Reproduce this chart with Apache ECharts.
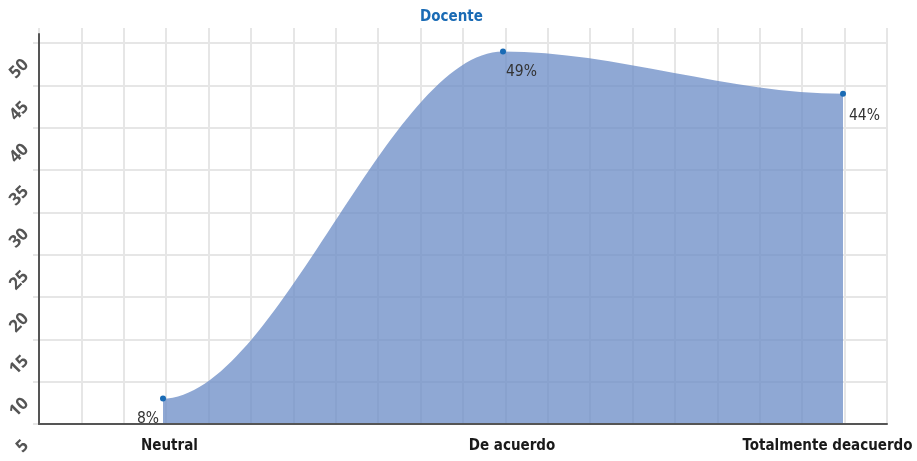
<!DOCTYPE html>
<html>
<head>
<meta charset="utf-8">
<script src="https://cdn.jsdelivr.net/npm/echarts@6/dist/echarts.min.js"></script>
<style>
  html, body { margin: 0; padding: 0; background: #ffffff; }
  #chart { width: 917px; height: 461px; }
</style>
</head>
<body>
<div id="chart"></div>
<script>
// Survey answers for the "Docente" group
const chartTitle = 'Docente';
const categories = ['Neutral', 'De acuerdo', 'Totalmente deacuerdo'];
const percentages = [8, 49, 44];
const yTickValues = [5, 10, 15, 20, 25, 30, 35, 40, 45, 50];

const yMin = yTickValues[0];
const yMax = yTickValues[yTickValues.length - 1];
const yStep = yTickValues[1] - yTickValues[0];

const NARROW = "'DejaVu Sans Condensed', 'DejaVu Sans', sans-serif";
const GRID_LINE = '#e6e6e6';
const AXIS_LINE = '#555555';
const AREA_FILL = 'rgba(106,139,198,0.75)';
const POINT_COLOR = '#1a6bb5';
const COLUMNS = 20;          // vertical background grid columns
const LABEL_SHIFT = 19;      // rotated y labels sit a little below their ticks

// plot frame (px)
const L = 39, R = 30, B = 37, TOP_VALUE = 43;

// where each value label sits next to its point
const pointLabels = [
  { position: [-1, 23], align: 'right' },
  { position: [6, 23.5], align: 'left' },
  { position: [9, 25], align: 'left' }
];
// horizontal nudges of the category labels
const categoryPads = [[0, 0, 0, 13], [0, 0, 0, 18], [0, 31, 0, 0]];

const rich = {};
categoryPads.forEach((p, i) => {
  rich['c' + i] = {
    padding: p, fontFamily: NARROW, fontSize: 15, fontWeight: 'bold', color: '#1a1a1a'
  };
});

// Area under a curve that eases in and out between neighbouring points
// (horizontal tangents at every point).
function renderArea(params, api) {
  if (params.dataIndexInside !== 0) return null;
  const n = params.dataInsideLength;
  const pts = [];
  for (let j = 0; j < n; j++) {
    pts.push(api.coord([api.value(0, j), api.value(1, j)]));
  }
  const base = api.coord([0, yMin])[1];
  let d = 'M' + pts[0][0] + ',' + base + ' L' + pts[0][0] + ',' + pts[0][1];
  for (let j = 1; j < n; j++) {
    const a = pts[j - 1], b = pts[j];
    const k = (b[0] - a[0]) / 3;
    d += ' C' + (a[0] + k) + ',' + a[1] + ' ' + (b[0] - k) + ',' + b[1] + ' ' + b[0] + ',' + b[1];
  }
  d += ' L' + pts[n - 1][0] + ',' + base + ' Z';
  return {
    type: 'path',
    shape: { pathData: d },
    style: { fill: AREA_FILL, stroke: null }
  };
}

const chart = echarts.init(document.getElementById('chart'), null, { renderer: 'canvas' });

chart.setOption({
  animation: false,
  backgroundColor: '#ffffff',
  title: {
    text: chartTitle,
    left: 415,
    top: 5,
    textStyle: { fontFamily: NARROW, fontSize: 15, fontWeight: 'bold', color: '#1a6bb5' }
  },
  grid: [
    { left: L, right: R, top: 28, bottom: B, outerBoundsMode: 'none' },                       // columns
    { left: L, right: R, top: TOP_VALUE, bottom: B, outerBoundsMode: 'none' },                // rows
    { left: L, right: R, top: 34, bottom: B, outerBoundsMode: 'none' },                       // axis lines
    { left: L, right: R, top: TOP_VALUE + LABEL_SHIFT, bottom: B - LABEL_SHIFT, outerBoundsMode: 'none' }, // y labels
    { left: 163, right: 74, top: TOP_VALUE, bottom: B, outerBoundsMode: 'none' }              // data
  ],
  xAxis: [
    {
      gridIndex: 0, type: 'value', min: 0, max: COLUMNS, interval: 1,
      axisLine: { show: false }, axisTick: { show: false }, axisLabel: { show: false },
      splitLine: { show: true, lineStyle: { color: GRID_LINE, width: 2 } }
    },
    { gridIndex: 1, type: 'value', show: false },
    {
      gridIndex: 2, type: 'value', min: 0, max: 1, z: 5,
      axisLine: { show: true, onZero: false, lineStyle: { color: AXIS_LINE, width: 2 } },
      axisTick: { show: false }, axisLabel: { show: false }, splitLine: { show: false }
    },
    { gridIndex: 3, type: 'value', show: false },
    {
      gridIndex: 4, type: 'category', data: categories, boundaryGap: false,
      axisLine: { show: false }, axisTick: { show: false }, splitLine: { show: false },
      axisLabel: {
        show: true, margin: 15, interval: 0,
        formatter: (v, i) => '{c' + i + '|' + v + '}',
        rich: rich
      }
    }
  ],
  yAxis: [
    { gridIndex: 0, type: 'value', show: false },
    {
      gridIndex: 1, type: 'value', min: yMin, max: yMax, interval: yStep,
      axisLine: { show: false },
      axisTick: { show: true, length: 6, lineStyle: { color: GRID_LINE, width: 2 } },
      axisLabel: { show: false },
      splitLine: { show: true, lineStyle: { color: GRID_LINE, width: 2 } }
    },
    {
      gridIndex: 2, type: 'value', min: 0, max: 1, z: 5,
      axisLine: { show: true, onZero: false, lineStyle: { color: AXIS_LINE, width: 2 } },
      axisTick: { show: false }, axisLabel: { show: false }, splitLine: { show: false }
    },
    {
      gridIndex: 3, type: 'value', min: yMin, max: yMax, interval: yStep,
      axisLine: { show: false }, axisTick: { show: false }, splitLine: { show: false },
      axisLabel: {
        show: true, rotate: 45, margin: 13,
        color: '#555555', fontFamily: "'Open Sans', sans-serif", fontWeight: 'bold', fontSize: 17
      }
    },
    { gridIndex: 4, type: 'value', min: yMin, max: yMax, show: false }
  ],
  series: [
    {
      type: 'custom',
      xAxisIndex: 4,
      yAxisIndex: 4,
      renderItem: renderArea,
      clip: false,
      z: 2,
      silent: true,
      data: percentages.map((v, i) => [i, v])
    },
    {
      type: 'scatter',
      xAxisIndex: 4,
      yAxisIndex: 4,
      symbol: 'circle',
      symbolSize: 6,
      z: 3,
      itemStyle: { color: POINT_COLOR, opacity: 1 },
      label: {
        show: true,
        formatter: (p) => p.value[1] + '%',
        verticalAlign: 'middle',
        fontFamily: NARROW,
        fontSize: 15.5,
        color: '#333333'
      },
      data: percentages.map((v, i) => ({ value: [i, v], label: pointLabels[i] }))
    }
  ]
});
</script>
</body>
</html>
